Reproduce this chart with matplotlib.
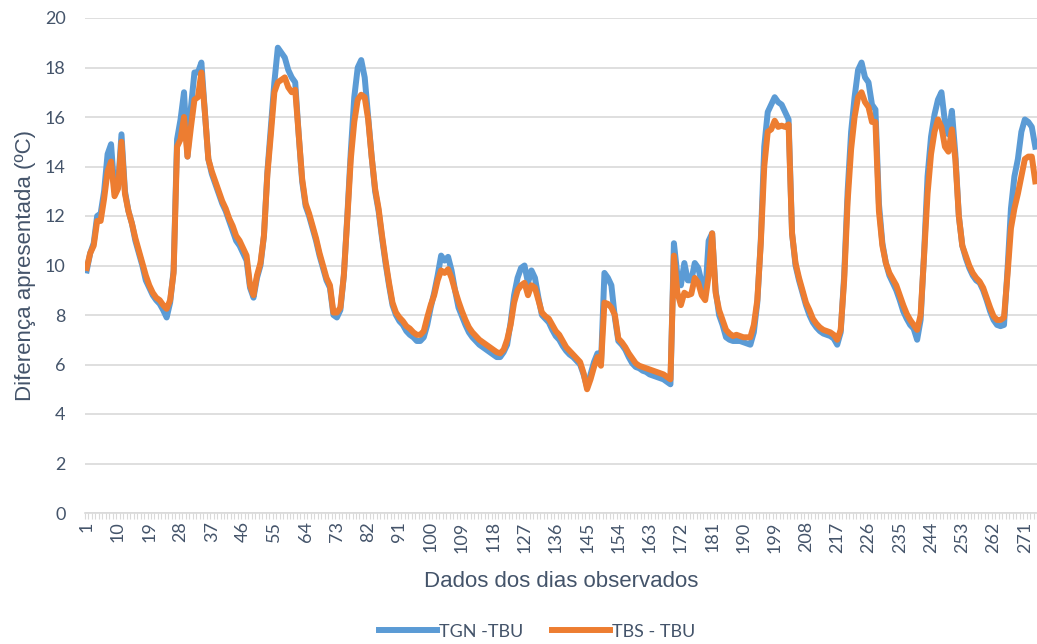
import matplotlib
matplotlib.use("Agg")
import matplotlib.pyplot as plt
import numpy as np

# TGN - TBU (blue)
tgn_tbu = [
    9.8, 10.5, 10.9, 12.0, 12.1, 13.0, 14.5, 14.9, 13.0, 13.2,
    15.3, 13.0, 12.2, 11.7, 11.0, 10.5, 10.0, 9.4, 9.1, 8.8,
    8.6, 8.45, 8.2, 7.9, 8.5, 9.8, 15.1, 15.9, 17.0, 14.4,
    16.4, 17.8, 17.8, 18.2, 16.2, 14.3, 13.7, 13.3, 12.9, 12.5,
    12.2, 11.8, 11.4, 11.0, 10.8, 10.5, 10.2, 9.1, 8.7, 9.5,
    10.0, 11.2, 13.8, 15.6, 17.4, 18.8, 18.6, 18.4, 17.9, 17.6,
    17.4, 15.3, 13.4, 12.4, 12.0, 11.5, 11.0, 10.4, 9.9, 9.4,
    9.1, 8.0, 7.9, 8.2, 9.6, 12.0, 14.6, 16.8, 18.0, 18.3,
    17.6, 16.0, 14.4, 13.0, 12.2, 11.1, 10.1, 9.2, 8.4, 8.0,
    7.75, 7.6, 7.35, 7.2, 7.1, 6.95, 6.95, 7.1, 7.6, 8.3,
    8.9, 9.6, 10.4, 10.2, 10.35, 9.8, 9.0, 8.3, 7.95, 7.6,
    7.3, 7.1, 6.95, 6.8, 6.7, 6.6, 6.5, 6.4, 6.3, 6.3,
    6.5, 6.8, 7.7, 8.8, 9.5, 9.9, 10.0, 9.3, 9.8, 9.5,
    8.7, 8.0, 7.85, 7.7, 7.4, 7.15, 7.0, 6.75, 6.55, 6.4,
    6.3, 6.15, 6.0, 5.6, 5.1, 5.6, 6.1, 6.45, 6.0, 9.7,
    9.5, 9.2, 7.9, 6.95, 6.8, 6.6, 6.3, 6.05, 5.9, 5.85,
    5.75, 5.7, 5.6, 5.55, 5.5, 5.45, 5.4, 5.3, 5.2, 10.9,
    9.6, 9.2, 10.1, 9.4, 9.4, 10.1, 9.9, 9.3, 8.8, 11.0,
    11.3, 9.0, 8.0, 7.6, 7.1, 7.0, 6.95, 6.95, 6.95, 6.9,
    6.85, 6.8, 7.3, 8.5, 11.0, 14.8, 16.2, 16.5, 16.8, 16.6,
    16.5, 16.2, 15.9, 11.3, 10.0, 9.4, 8.9, 8.4, 8.0, 7.7,
    7.5, 7.35, 7.25, 7.2, 7.15, 7.05, 6.8, 7.3, 9.6, 13.0,
    15.4, 16.8, 17.9, 18.2, 17.6, 17.4, 16.5, 16.3, 12.5, 10.9,
    10.1, 9.6, 9.3, 9.0, 8.6, 8.15, 7.85, 7.6, 7.45, 7.0,
    7.8, 10.5, 13.6, 15.2, 16.1, 16.7, 17.0, 15.8, 15.3, 16.25,
    14.5, 12.0, 10.8, 10.3, 9.9, 9.6, 9.4, 9.3, 9.0, 8.6,
    8.15, 7.8, 7.6, 7.55, 7.6, 9.8, 12.3, 13.6, 14.3, 15.4,
    15.9, 15.8, 15.6, 14.8,
]

# TBS - TBU (orange)
tbs_tbu = [
    9.9, 10.5, 10.8, 11.8, 11.8, 12.7, 13.8, 14.2, 12.8, 13.1,
    15.0, 12.9, 12.2, 11.7, 11.1, 10.6, 10.1, 9.6, 9.2, 8.9,
    8.7, 8.6, 8.4, 8.25, 8.6, 9.7, 14.8, 15.1, 16.0, 14.4,
    15.6, 16.7, 16.8, 17.8, 16.2, 14.3, 13.8, 13.4, 13.0, 12.6,
    12.3, 11.9, 11.6, 11.2, 11.0, 10.7, 10.4, 9.2, 8.8, 9.6,
    10.1, 11.2, 13.7, 15.3, 17.0, 17.4, 17.5, 17.6, 17.2, 17.0,
    17.1, 15.3, 13.5, 12.5, 12.1, 11.6, 11.1, 10.5, 10.0, 9.5,
    9.2, 8.1, 8.1, 8.3, 9.6, 11.9, 14.3, 15.8, 16.7, 16.9,
    16.8, 15.9, 14.4, 13.1, 12.3, 11.2, 10.2, 9.3, 8.5, 8.1,
    7.9, 7.75, 7.55, 7.45, 7.3, 7.2, 7.2, 7.35, 7.9, 8.4,
    8.8, 9.4, 9.8, 9.7, 9.85, 9.5, 9.0, 8.55, 8.15, 7.8,
    7.5, 7.3, 7.15, 7.0, 6.9, 6.8, 6.7, 6.6, 6.5, 6.45,
    6.6, 7.0, 7.6, 8.5, 9.0, 9.2, 9.3, 8.8, 9.2, 9.1,
    8.6, 8.1, 7.95, 7.85, 7.6, 7.35, 7.2, 6.95, 6.7, 6.55,
    6.4, 6.25, 6.1, 5.65, 5.0, 5.4, 5.9, 6.3, 5.95, 8.5,
    8.45, 8.3, 8.0, 7.05, 6.9, 6.7, 6.45, 6.25, 6.05, 5.95,
    5.9, 5.85, 5.8, 5.75, 5.7, 5.65, 5.6, 5.5, 5.4, 10.4,
    8.9, 8.4, 8.9, 8.8, 8.85, 9.5, 9.3, 8.8, 8.6, 9.6,
    11.3, 8.9, 8.2, 7.8, 7.4, 7.25, 7.15, 7.2, 7.15, 7.1,
    7.1, 7.1, 7.6, 8.6, 10.9, 14.0, 15.4, 15.5, 15.85, 15.6,
    15.65, 15.6, 15.7, 11.3, 10.1, 9.5, 9.0, 8.5, 8.2, 7.85,
    7.65, 7.5, 7.4, 7.35, 7.3, 7.2, 7.0, 7.4, 9.4, 12.6,
    14.7, 16.0, 16.8, 17.0, 16.6, 16.4, 15.8, 15.8, 12.2, 10.8,
    10.1, 9.7, 9.45, 9.2, 8.8, 8.4, 8.05, 7.8, 7.6, 7.4,
    8.0, 10.4, 12.9, 14.5, 15.4, 15.9, 15.6, 14.8, 14.6, 15.5,
    14.3, 12.0, 10.8, 10.4, 10.0, 9.7, 9.5, 9.35, 9.1, 8.7,
    8.3, 7.95, 7.8, 7.8, 7.9, 9.6, 11.5, 12.3, 12.9, 13.6,
    14.3, 14.4, 14.4, 13.4,
]

days = np.arange(1, len(tgn_tbu) + 1)
tick_days = list(range(1, len(days) + 1, 9))

txt = "#44546A"
grid = "#D9D9D9"

fig = plt.figure(figsize=(10.37, 6.44), dpi=100)
ax = fig.add_axes([85 / 1037, 1 - 513 / 644, 952 / 1037, 495 / 644])

ax.plot(days, tgn_tbu, color="#5B9BD5", lw=4.3, label="TGN -TBU", solid_joinstyle="round")
ax.plot(days, tbs_tbu, color="#ED7D31", lw=4.3, label="TBS - TBU", solid_joinstyle="round")

ax.set_xlim(0.5, len(days) + 0.5)
ax.set_ylim(0, 20)
ax.set_yticks(range(0, 21, 2))
ax.set_xticks(tick_days)
ax.set_xticks(np.arange(0.5, len(days) + 1, 1), minor=True)
ax.tick_params(axis="x", which="major", length=0, pad=6, labelrotation=90)
ax.tick_params(axis="x", which="minor", length=4, color=grid, width=0.8)
ax.tick_params(axis="y", length=0, pad=14)
for lab in ax.get_xticklabels() + ax.get_yticklabels():
    lab.set_family("Lato")
    lab.set_fontsize(13)
    lab.set_color(txt)

ax.grid(axis="y", color=grid, lw=1.2)
ax.set_axisbelow(True)
for s in ["top", "right", "left"]:
    ax.spines[s].set_visible(False)
ax.spines["bottom"].set_color(grid)
ax.spines["bottom"].set_linewidth(1.2)

ax.set_xlabel("Dados dos dias observados", fontsize=16, color=txt, family="Liberation Sans", labelpad=13)
ax.set_ylabel("Diferença apresentada (ºC)", fontsize=16, color=txt, family="Liberation Sans", labelpad=6)

leg = fig.legend(loc="center", bbox_to_anchor=(0.518, 0.019), ncol=2, frameon=False,
                 handlelength=3.2, columnspacing=1.6, handletextpad=0.1,
                 prop={"family": "Lato", "size": 13})
for t in leg.get_texts():
    t.set_color(txt)

fig.savefig("out.png", dpi=100)
